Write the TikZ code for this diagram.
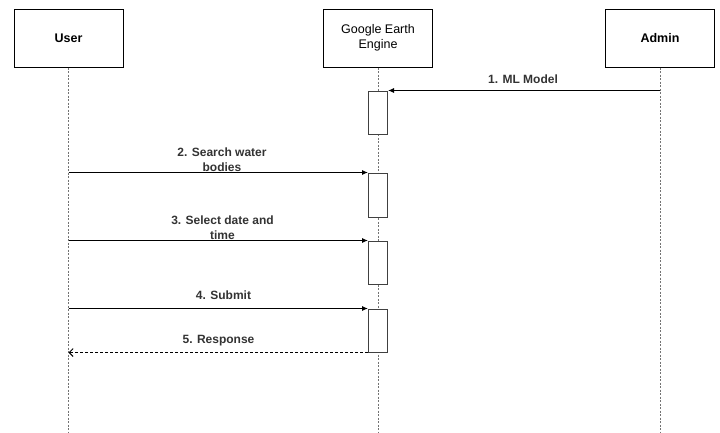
\documentclass[tikz,border=0pt]{standalone}
\usepackage{fontspec}
\setmainfont{Liberation Sans}
\usetikzlibrary{arrows.meta}

\begin{document}
\begin{tikzpicture}[x=1pt, y=-1pt]
	\tikzstyle{actor} = [rectangle, draw=black, line width=1pt, minimum width=109pt, minimum height=58pt, font=\fontsize{12.5}{14.5}\selectfont]
	\tikzstyle{life} = [draw=black!55, line width=0.9pt, dash pattern=on 2pt off 1.5pt]
	\tikzstyle{act} = [rectangle, draw=black!75, line width=1pt, fill=white, minimum width=19pt, inner sep=0pt]
	\tikzstyle{msg} = [font=\bfseries\fontsize{12}{15}\selectfont, align=center, inner sep=0pt, text=black!80]
	\tikzstyle{call} = [draw=black, line width=1pt, -{Latex[length=6pt, width=5pt]}]
	\tikzstyle{reply} = [draw=black, line width=0.9pt, dash pattern=on 3pt off 2pt, -{Straight Barb[length=4pt, width=8pt]}]

	\useasboundingbox (0,0) rectangle (720,432);

	\node [actor] (user) at (68.5,38) {\bfseries User};
	\node [actor, align=center] (gee) at (378,38) {Google Earth\\Engine};
	\node [actor] (admin) at (660,38) {\bfseries Admin};

	\coordinate (userend) at (user.south |- 0,432);
	\coordinate (geeend) at (gee.south |- 0,432);
	\coordinate (adminend) at (admin.south |- 0,432);
	\draw [life] (user) -- (userend);
	\draw [life] (gee) -- (geeend);
	\draw [life] (admin) -- (adminend);

	\node [act, minimum height=43pt] (act1) at (378,112.5) {};
	\node [act, minimum height=44pt] (act2) at (378,195) {};
	\node [act, minimum height=43pt] (act3) at (378,262.5) {};
	\node [act, minimum height=43pt] (act4) at (378,330.5) {};

	\coordinate (a1) at (admin.south |- act1.north);
	\draw [call] (a1) -- (act1.north east);
	\node [msg] (m1) at (523,79) {1. ML Model};

	\coordinate (u2) at (user.south |- act2.north);
	\draw [call] (u2) -- (act2.north west);
	\node [msg] (m2) at (222,160) {2. Search water\\bodies};

	\coordinate (u3) at (user.south |- act3.north);
	\draw [call] (u3) -- (act3.north west);
	\node [msg] (m3) at (222.5,227.5) {3. Select date and\\time};

	\coordinate (u4) at (user.south |- act4.north);
	\draw [call] (u4) -- (act4.north west);
	\node [msg] (m4) at (223.5,295) {4. Submit};

	\coordinate (u5) at (user.south |- act4.south);
	\draw [reply] (act4.south west) -- (u5);
	\node [msg] (m5) at (218.5,341) {5. Response};
\end{tikzpicture}
\end{document}
